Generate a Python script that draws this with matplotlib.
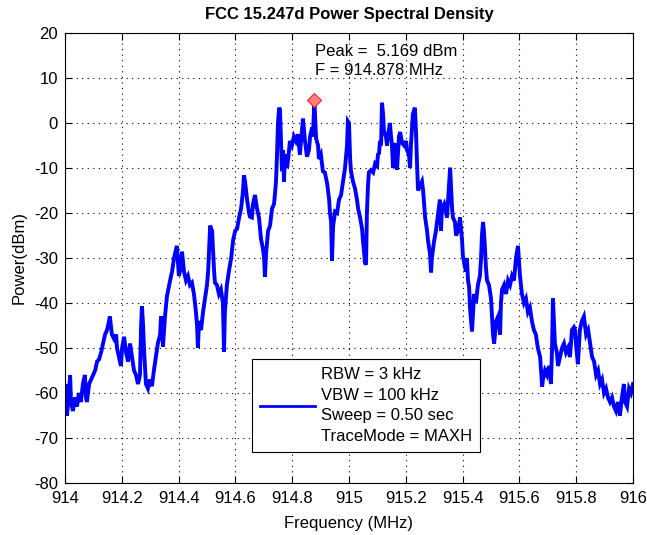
import numpy as np
import matplotlib
matplotlib.use("Agg")
import matplotlib.pyplot as plt

# spectrum analyzer max-hold trace, offsets in MHz from 914 MHz and level in dBm
freq_offset = [
    0.000, 0.004, 0.007, 0.014, 0.018, 0.021, 0.028, 0.035, 0.042, 0.049,
    0.056, 0.063, 0.070, 0.074, 0.077, 0.085, 0.092, 0.099, 0.106, 0.113,
    0.120, 0.127, 0.134, 0.141, 0.148, 0.155, 0.158, 0.165, 0.173, 0.180,
    0.183, 0.190, 0.197, 0.201, 0.208, 0.215, 0.222, 0.229, 0.236, 0.243,
    0.250, 0.257, 0.264, 0.268, 0.271, 0.275, 0.278, 0.285, 0.292, 0.299,
    0.306, 0.313, 0.320, 0.327, 0.335, 0.338, 0.342, 0.345, 0.352, 0.359,
    0.370, 0.377, 0.384, 0.391, 0.394, 0.398, 0.401, 0.408, 0.412, 0.419,
    0.426, 0.433, 0.440, 0.447, 0.454, 0.461, 0.465, 0.468, 0.472, 0.479,
    0.486, 0.493, 0.500, 0.504, 0.511, 0.518, 0.525, 0.528, 0.535, 0.542,
    0.549, 0.556, 0.560, 0.563, 0.570, 0.577, 0.585, 0.592, 0.599, 0.606,
    0.613, 0.620, 0.627, 0.630, 0.634, 0.641, 0.648, 0.651, 0.658, 0.662,
    0.669, 0.676, 0.683, 0.690, 0.697, 0.701, 0.704, 0.708, 0.715, 0.722,
    0.729, 0.736, 0.739, 0.743, 0.746, 0.750, 0.754, 0.757, 0.761, 0.764,
    0.768, 0.771, 0.775, 0.782, 0.789, 0.792, 0.799, 0.806, 0.813, 0.820,
    0.827, 0.835, 0.838, 0.842, 0.845, 0.852, 0.859, 0.863, 0.870, 0.873,
    0.878, 0.884, 0.891, 0.894, 0.901, 0.908, 0.915, 0.923, 0.930, 0.933,
    0.937, 0.940, 0.944, 0.951, 0.958, 0.965, 0.972, 0.979, 0.986, 0.993,
    0.996, 1.000, 1.004, 1.007, 1.014, 1.021, 1.028, 1.032, 1.039, 1.046,
    1.049, 1.053, 1.056, 1.060, 1.063, 1.067, 1.070, 1.077, 1.085, 1.092,
    1.099, 1.102, 1.106, 1.109, 1.113, 1.116, 1.120, 1.123, 1.130, 1.134,
    1.137, 1.144, 1.148, 1.151, 1.155, 1.158, 1.165, 1.169, 1.176, 1.180,
    1.187, 1.194, 1.201, 1.204, 1.211, 1.215, 1.218, 1.225, 1.232, 1.236,
    1.239, 1.243, 1.250, 1.257, 1.261, 1.268, 1.275, 1.278, 1.285, 1.289,
    1.292, 1.299, 1.306, 1.310, 1.320, 1.324, 1.327, 1.335, 1.342, 1.345,
    1.349, 1.352, 1.356, 1.359, 1.363, 1.366, 1.373, 1.377, 1.384, 1.391,
    1.398, 1.401, 1.408, 1.412, 1.415, 1.419, 1.423, 1.426, 1.433, 1.437,
    1.440, 1.447, 1.454, 1.461, 1.465, 1.468, 1.472, 1.475, 1.479, 1.482,
    1.486, 1.493, 1.500, 1.504, 1.507, 1.511, 1.518, 1.525, 1.532, 1.535,
    1.539, 1.546, 1.553, 1.560, 1.567, 1.574, 1.581, 1.588, 1.595, 1.599,
    1.602, 1.609, 1.616, 1.623, 1.630, 1.637, 1.644, 1.651, 1.658, 1.665,
    1.673, 1.680, 1.683, 1.690, 1.697, 1.704, 1.708, 1.711, 1.715, 1.718,
    1.722, 1.725, 1.732, 1.736, 1.743, 1.750, 1.757, 1.764, 1.771, 1.778,
    1.785, 1.792, 1.796, 1.799, 1.806, 1.813, 1.820, 1.827, 1.835, 1.842,
    1.849, 1.856, 1.863, 1.870, 1.877, 1.884, 1.891, 1.898, 1.905, 1.912,
    1.919, 1.926, 1.933, 1.940, 1.947, 1.954, 1.961, 1.968, 1.972, 1.979,
    1.986, 1.993, 2.000,
]
power_dbm = [
    -62, -58, -65, -60, -56, -62, -64, -61, -63, -60,
    -62, -58, -56, -61, -62, -58, -57, -56, -55, -53,
    -52.5, -51, -49, -47, -46, -44, -43, -47, -48, -47,
    -50, -52, -54, -50, -47.5, -51, -53, -49, -52, -55,
    -56, -58, -56, -45, -40.7, -45, -50, -58, -59, -57,
    -58.5, -55, -52, -49, -47, -43, -45, -49.7, -43, -38.5,
    -35, -33, -30, -28, -27.3, -31, -34, -32, -28.6, -33,
    -35, -34, -36, -35.5, -38, -42, -45, -50, -44, -46,
    -42, -39, -36, -33, -22.8, -24, -33, -35.5, -36, -38,
    -37, -40, -50.8, -42, -36, -33, -30, -26, -24, -23.5,
    -21, -19, -15, -11.6, -13, -17, -20, -20.8, -21, -18,
    -16, -19, -21, -25.7, -28, -30, -34.2, -29, -24, -22.8,
    -19, -18, -16, -13, -8, 0, 3.4, 3, -5, -10.7,
    -6, -13, -7, -10, -6, -4, -5, -3, -4, -2.5,
    -7, -1, 1, -2, -4, -7.5, -6, -3, -1, -3,
    5.169, -3.4, -5, -8, -7, -10.7, -11, -13.4, -17, -20,
    -22, -30.6, -23, -19.7, -20, -17, -16, -13, -10, -5,
    0.4, 0, -8, -10.7, -13, -14.5, -17, -19, -21, -23.5,
    -26, -28.6, -31, -31.5, -20, -13.8, -11, -10.5, -11, -9,
    -9.5, -7, -6.7, -4, -5, 4.5, 2, -1.8, -3, -5,
    -3, 0, -3, -4.5, -10, -6, -4.5, -10.4, -3, -2,
    -4.5, -5, -4, -6, -7, -10, -5, 2, 3.4, -2,
    -8, -15, -14, -13, -15, -21, -24, -26, -29, -33.2,
    -30, -26.5, -24, -22, -17, -24, -19, -18, -20, -21,
    -17, -14, -9.9, -14, -19, -21, -22, -25, -24, -21,
    -26, -29.5, -32, -33, -30, -35, -36.5, -41, -46.3, -42,
    -38, -40, -36, -34, -30, -25, -22, -24, -28, -32,
    -35, -36, -39, -43.6, -47, -49, -44, -43, -47, -40,
    -37, -36, -38, -35, -36, -34, -35, -30, -27.3, -31,
    -34, -38, -40, -39, -42, -41, -44, -46, -47, -50,
    -52, -58.6, -57, -55, -56, -54, -56, -58, -50, -39,
    -45, -49, -51, -54, -52, -50, -49, -51, -50, -52,
    -46, -45.4, -46, -49, -53.6, -46, -44, -43, -47, -46,
    -49, -52, -53, -56, -55, -58, -57, -60, -59, -61,
    -62, -61, -63, -64, -62, -65, -61, -58, -62, -63,
    -59, -60, -58,
]
peak_freq = 914.878
peak_dbm = 5.169
settings = ["RBW = 3 kHz", "VBW = 100 kHz", "Sweep = 0.50 sec", "TraceMode = MAXH"]

freq = 914.0 + np.array(freq_offset)
power = np.array(power_dbm)

plt.rcParams['font.family'] = ['Liberation Sans', 'DejaVu Sans']
plt.rcParams['font.size'] = 12
plt.rcParams['axes.unicode_minus'] = False

fig = plt.figure(figsize=(6.47, 5.35), dpi=100)
ax = fig.add_axes([65 / 647, 1 - 483 / 535, 568 / 647, 450 / 535])

line, = ax.plot(freq, power, color='#0000ff', lw=2.8, solid_joinstyle='miter',
                label="\n".join(settings))
ax.plot(peak_freq, peak_dbm, marker='D', ms=7, mfc='#ff8080', mec='#ff2020',
        mew=0.8, zorder=5)
ax.text(peak_freq + 0.004, 13.8, "Peak =  %.3f dBm\nF = %.3f MHz" % (peak_dbm, peak_freq),
        ha='left', va='center', fontsize=12, linespacing=1.4)

ax.set_xlim(914, 916)
ax.set_ylim(-80, 20)
ax.set_xticks(np.arange(914, 916.01, 0.2))
ax.set_xticklabels(["914", "914.2", "914.4", "914.6", "914.8", "915",
                    "915.2", "915.4", "915.6", "915.8", "916"])
ax.set_yticks(np.arange(-80, 21, 10))
ax.tick_params(direction='in', length=5, width=0.8, top=True, right=True,
               labelsize=12)
ax.tick_params(axis='x', pad=6)
ax.tick_params(axis='y', pad=5)
ax.grid(True, color='black', linestyle=(0, (1, 4)), lw=0.8)
for s in ax.spines.values():
    s.set_linewidth(0.8)

ax.set_title("FCC 15.247d Power Spectral Density", fontsize=12, fontweight='bold',
             family=['Liberation Sans Narrow', 'Liberation Sans'], pad=10)
ax.set_xlabel("Frequency (MHz)", labelpad=7)
ax.set_ylabel("Power(dBm)", labelpad=5)

leg = ax.legend(handles=[line], loc='lower left', bbox_to_anchor=(0.329, 0.069),
                borderaxespad=0, fancybox=False, framealpha=1, edgecolor='black',
                fontsize=12, handlelength=3.3, handletextpad=0.35, borderpad=0.5)
leg.get_frame().set_linewidth(0.8)
leg.get_lines()[0].set_linewidth(2.0)
leg.get_texts()[0].set_linespacing(1.45)

fig.savefig("out.png", dpi=100)
